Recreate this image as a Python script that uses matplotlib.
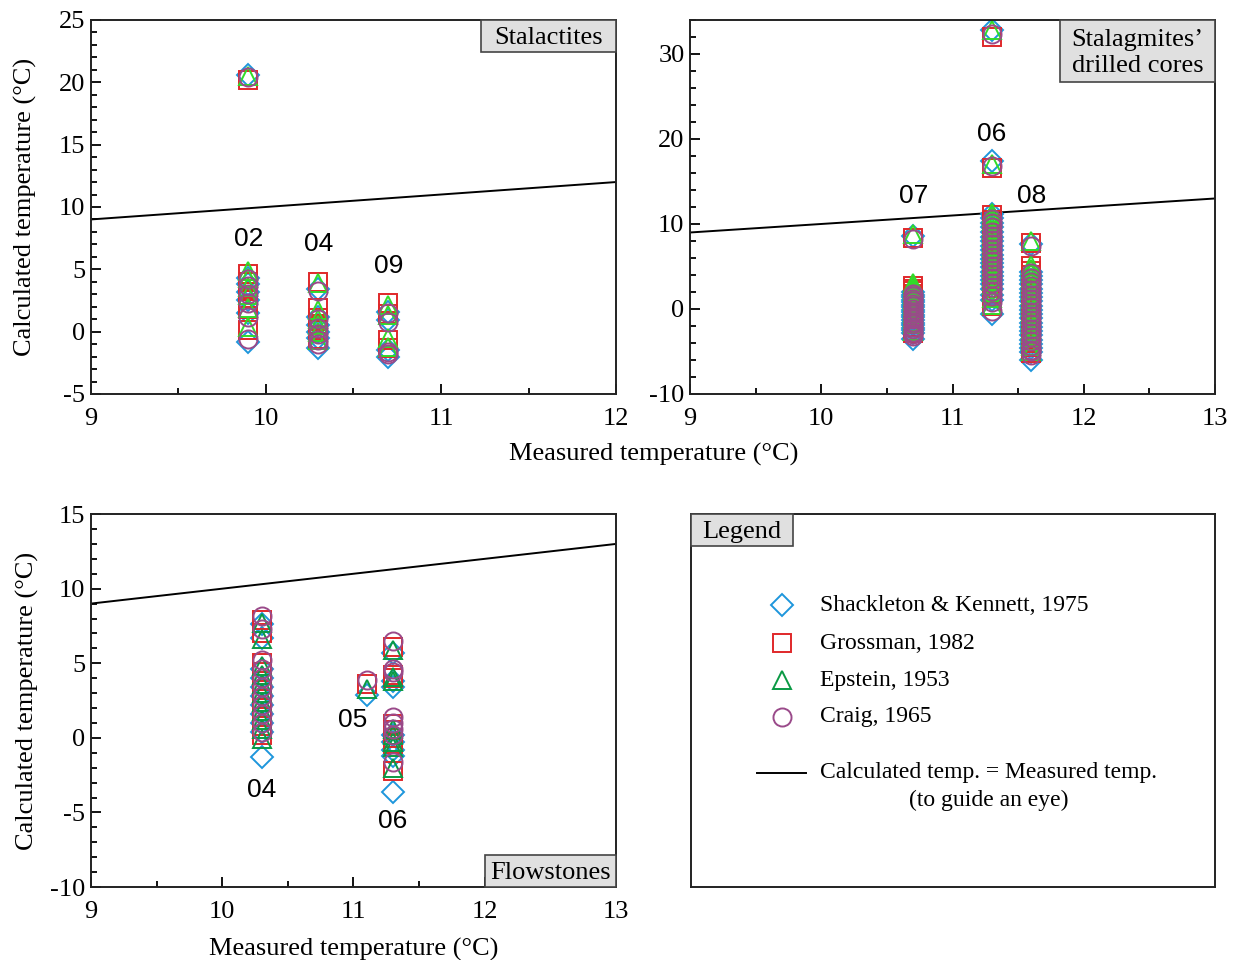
# Calculated vs measured cave temperatures for stalactites, stalagmite cores
# and flowstones, using four δ18O–temperature equations.
# Output: out.png (1236 x 960)

import matplotlib.pyplot as plt
from matplotlib.patches import Rectangle
from matplotlib.ticker import MultipleLocator

plt.rcParams["font.family"] = ["Liberation Serif", "DejaVu Serif"]
plt.rcParams["axes.unicode_minus"] = False

# ---- data -----------------------------------------------------------------
METHODS = ["Shackleton & Kennett, 1975", "Grossman, 1982", "Epstein, 1953", "Craig, 1965"]

# Stalactites
STAL_X = [9.9, 10.3, 10.7]
STAL_NAMES = ["02", "04", "09"]
STAL_SK = [[20.6, 4.3, 3.8, 3.2, 2.5, 1.5, -0.8],
           [3.4, 1.2, 0.5, 0.0, -0.5, -1.3],
           [1.6, 0.9, -1.5, -2.0]]
STAL_GR = [[20.2, 4.6, 4.0, 3.4, 2.7, 1.8, 0.1],
           [4.0, 1.9, 1.1, 0.6, 0.1, -0.6],
           [2.3, 1.4, -0.7, -1.3]]
STAL_EP = [[20.5, 4.9, 4.3, 3.6, 2.9, 1.9, 0.4],
           [3.9, 1.7, 1.0, 0.5, 0.0, -0.7],
           [2.1, 1.3, -0.5, -1.2]]
STAL_CR = [[20.4, 4.2, 3.7, 3.0, 2.3, 1.2, -0.6],
           [3.3, 1.0, 0.3, -0.2, -0.7, -1.0],
           [1.5, 0.8, -1.6, -1.8]]

# Stalagmites' drilled cores
STAG_X = [10.7, 11.3, 11.6]
STAG_NAMES = ["07", "06", "08"]
STAG_SK = [[8.6, 2.0, 1.7, 1.4, 1.1, 0.8, 0.5, 0.2, -0.1, -0.4, -0.7, -1.0, -1.3, -1.6,
            -1.9, -2.2, -2.5, -2.8, -3.5],
           [32.8, 17.4, 11.2, 10.7, 10.1, 9.6, 9.0, 8.5, 8.0, 7.4, 6.9, 6.4, 5.9, 5.4,
            4.9, 4.4, 3.9, 3.4, 2.9, 2.3, 1.6, 1.0, -0.6],
           [7.6, 4.4, 3.9, 3.4, 2.9, 2.4, 1.9, 1.4, 0.9, 0.4, -0.1, -0.6, -1.1, -1.6,
            -2.1, -2.6, -3.1, -3.6, -4.1, -4.6, -5.1, -6.0]]
STAG_GR = [[8.4, 2.7, 2.4, 2.1, 1.8, 1.5, 1.2, 0.9, 0.6, 0.3, 0.0, -0.3, -0.6, -0.9,
            -1.2, -1.5, -1.8, -2.1, -2.8],
           [32.0, 16.6, 11.0, 10.5, 10.0, 9.5, 9.0, 8.5, 8.0, 7.5, 7.0, 6.5, 6.0, 5.5,
            5.0, 4.5, 4.0, 3.5, 3.0, 2.5, 1.9, 1.4, 0.3],
           [7.8, 5.0, 4.5, 4.0, 3.5, 3.0, 2.5, 2.0, 1.5, 1.0, 0.5, 0.0, -0.5, -1.0,
            -1.5, -2.0, -2.5, -3.0, -3.5, -4.0, -4.5, -5.2]]
STAG_EP = [[8.8, 3.0, 2.7, 2.4, 2.1, 1.8, 1.5, 1.2, 0.9, 0.6, 0.3, 0.0, -0.3, -0.6,
            -0.9, -1.2, -1.5, -1.8, -2.6],
           [32.8, 17.0, 11.3, 10.8, 10.3, 9.8, 9.3, 8.8, 8.3, 7.8, 7.3, 6.8, 6.3, 5.8,
            5.3, 4.8, 4.3, 3.8, 3.3, 2.8, 2.0, 1.3, 0.5],
           [8.0, 5.2, 4.7, 4.2, 3.7, 3.2, 2.7, 2.2, 1.7, 1.2, 0.7, 0.2, -0.3, -0.8,
            -1.3, -1.8, -2.3, -2.8, -3.3, -3.8, -4.3, -5.0]]
STAG_CR = [[8.2, 1.8, 1.5, 1.2, 0.9, 0.6, 0.3, 0.0, -0.3, -0.6, -0.9, -1.2, -1.5, -1.8,
            -2.1, -2.4, -2.7, -3.0, -3.2],
           [32.4, 16.8, 10.6, 10.1, 9.6, 9.1, 8.6, 8.1, 7.6, 7.1, 6.6, 6.1, 5.6, 5.1,
            4.6, 4.1, 3.6, 3.1, 2.6, 2.1, 1.5, 0.8, -0.2],
           [7.4, 4.2, 3.7, 3.2, 2.7, 2.2, 1.7, 1.2, 0.7, 0.2, -0.3, -0.8, -1.3, -1.8,
            -2.3, -2.8, -3.3, -3.8, -4.3, -4.8, -5.0, -5.4]]

# Flowstones
FLOW_X = [10.3, 11.1, 11.3]
FLOW_NAMES = ["04", "05", "06"]
FLOW_SK = [[7.6, 6.7, 4.6, 4.0, 3.4, 2.8, 2.2, 1.6, 1.0, 0.4, -1.3],
           [2.9],
           [5.7, 3.4, 3.8, 0.2, -0.3, -0.8, -1.2, -3.6]]
FLOW_GR = [[7.9, 7.0, 5.0, 4.4, 3.8, 3.2, 2.6, 2.0, 1.4, 0.8, 0.2],
           [3.6],
           [6.1, 4.2, 4.0, 0.9, 0.5, 0.0, -0.4, -2.2]]
FLOW_EP = [[7.7, 6.6, 4.8, 4.2, 3.6, 3.0, 2.4, 1.8, 1.2, 0.6, -0.1],
           [3.3],
           [5.9, 3.8, 4.1, 0.6, 0.2, -0.3, -0.6, -2.0]]
FLOW_CR = [[8.2, 7.3, 5.2, 4.6, 4.0, 3.4, 2.8, 2.2, 1.6, 1.0, 0.4],
           [3.9],
           [6.5, 4.6, 4.4, 1.4, 1.0, 0.6, 0.2, -1.6]]

# ---- styles ---------------------------------------------------------------
BLUE = "#1e96dc"
RED = "#e0282a"
GREEN_LIGHT = "#30dc28"
GREEN_DARK = "#0a9a44"
PURPLE = "#9a4a8a"
MARKERS = [("D", 11, BLUE), ("s", 12.5, RED), ("^", 13, None), ("o", 13, PURPLE)]
FS = 19


def draw_groups(ax, xs, series, green):
    for (marker, size, color), values in zip(MARKERS, series):
        color = color or green
        for x, vals in zip(xs, values):
            ax.plot([x] * len(vals), vals, linestyle="none", marker=marker,
                    markersize=size, markerfacecolor="none",
                    markeredgecolor=color, markeredgewidth=1.4)


def style_axes(ax, xlim, ylim, ymaj, ymin):
    ax.set_xlim(*xlim)
    ax.set_ylim(*ylim)
    ax.xaxis.set_major_locator(MultipleLocator(1))
    ax.xaxis.set_minor_locator(MultipleLocator(0.5))
    ax.yaxis.set_major_locator(MultipleLocator(ymaj))
    ax.yaxis.set_minor_locator(MultipleLocator(ymin))
    ax.tick_params(which="both", direction="in", labelsize=FS, width=1.3)
    ax.tick_params(which="major", length=7)
    ax.tick_params(which="minor", length=4)
    ax.tick_params(axis="x", which="major", pad=10)
    ax.tick_params(axis="y", which="major", pad=4)
    for sp in ax.spines.values():
        sp.set_linewidth(1.4)
        sp.set_color("#222222")
    # 1:1 line
    ax.plot(xlim, xlim, color="black", lw=1.4, zorder=1)


def tag(ax, text, x0, y0, w, h):
    ax.add_patch(Rectangle((x0, y0), w, h, transform=ax.transAxes,
                           facecolor="#e0e0e0", edgecolor="#444444", lw=1.2,
                           zorder=5, clip_on=False))
    ax.text(x0 + w / 2, y0 + h / 2 - 0.005, text, transform=ax.transAxes,
            ha="center", va="center", fontsize=FS, zorder=6, linespacing=1.2)


def names(ax, xs, ys, labels):
    for x, y, lab in zip(xs, ys, labels):
        ax.text(x, y, lab, ha="center", va="center", fontsize=19,
                family=["Liberation Sans", "DejaVu Sans"])


fig = plt.figure(figsize=(12.36, 9.6), dpi=100)
ax1 = fig.add_axes([0.0736, 0.5896, 0.4248, 0.3896])
ax2 = fig.add_axes([0.5583, 0.5896, 0.4248, 0.3896])
ax3 = fig.add_axes([0.0736, 0.0760, 0.4248, 0.3885])
ax4 = fig.add_axes([0.5591, 0.0760, 0.4240, 0.3885])

# Stalactites
style_axes(ax1, (9, 12), (-5, 25), 5, 1)
draw_groups(ax1, STAL_X, [STAL_SK, STAL_GR, STAL_EP, STAL_CR], GREEN_LIGHT)
names(ax1, STAL_X, [7.4, 7.0, 5.3], STAL_NAMES)
tag(ax1, "Stalactites", 0.743, 0.914, 0.257, 0.086)
ax1.set_ylabel("Calculated temperature (°C)", fontsize=FS, labelpad=16)

# Stalagmites
style_axes(ax2, (9, 13), (-10, 34), 10, 2)
draw_groups(ax2, STAG_X, [STAG_SK, STAG_GR, STAG_EP, STAG_CR], GREEN_LIGHT)
names(ax2, STAG_X, [13.3, 20.6, 13.3], STAG_NAMES)
tag(ax2, "Stalagmites’\ndrilled cores", 0.705, 0.834, 0.295, 0.166)

fig.text(0.529, 0.527, "Measured temperature (°C)", ha="center", va="center",
         fontsize=FS)

# Flowstones
style_axes(ax3, (9, 13), (-10, 15), 5, 1)
draw_groups(ax3, FLOW_X, [FLOW_SK, FLOW_GR, FLOW_EP, FLOW_CR], GREEN_DARK)
names(ax3, [10.3, 10.99, 11.3], [-3.5, 1.2, -5.6], FLOW_NAMES)
tag(ax3, "Flowstones", 0.75, 0.0, 0.25, 0.086)
ax3.set_ylabel("Calculated temperature (°C)", fontsize=FS, labelpad=8)
ax3.set_xlabel("Measured temperature (°C)", fontsize=FS, labelpad=11)

# Legend panel
ax4.set_xlim(0, 1)
ax4.set_ylim(0, 1)
ax4.set_xticks([])
ax4.set_yticks([])
for sp in ax4.spines.values():
    sp.set_linewidth(1.4)
    sp.set_color("#222222")
tag(ax4, "Legend", 0.0, 0.914, 0.195, 0.086)
rows = [0.756, 0.654, 0.555, 0.456]
greens = [None, None, GREEN_DARK, None]
for (marker, size, color), label, yy, g in zip(MARKERS, METHODS, rows, greens):
    ax4.plot([0.1737], [yy], marker=marker, markersize=size, linestyle="none",
             markerfacecolor="none", markeredgecolor=color or g,
             markeredgewidth=1.4, transform=ax4.transAxes)
    ax4.text(0.246, yy, label, fontsize=17, va="center", transform=ax4.transAxes)
ax4.plot([0.126, 0.219], [0.306, 0.306], color="black", lw=1.4,
         transform=ax4.transAxes)
ax4.text(0.246, 0.306, "Calculated temp. = Measured temp.", fontsize=17,
         va="center", transform=ax4.transAxes)
ax4.text(0.569, 0.233, "(to guide an eye)", fontsize=17, va="center",
         ha="center", transform=ax4.transAxes)

fig.savefig("out.png", dpi=100)
plt.close(fig)
